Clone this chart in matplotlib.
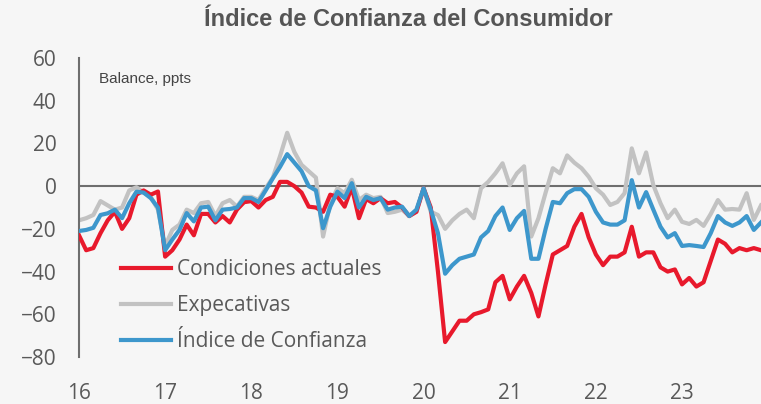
import numpy as np
import matplotlib
matplotlib.use("Agg")
import matplotlib.pyplot as plt

# datos mensuales ene-2016 .. dic-2023 (balance, ppts)
condiciones = [
    -23, -30, -29, -22, -16, -12, -20, -15, -4, -2, -4, -2.5,      # 2016
    -33, -30, -25, -18, -23, -13, -13, -17, -14, -17, -11, -7.5,   # 2017
    -7, -10, -6.5, -5, 2, 2, 0, -3, -9.6, -10, -12, -4,            # 2018
    -5, -9.6, -0.5, -15, -6, -8, -5.6, -8, -7.4, -10, -14, -12,    # 2019
    -1, -10, -40, -73, -68, -63, -63, -60, -59, -57.7, -45, -42,   # 2020
    -53, -47, -42, -50, -61, -46, -32, -30, -28, -19, -13, -24,    # 2021
    -32, -37, -33, -33, -31, -19, -33, -31, -31, -38, -40, -39,    # 2022
    -46, -43, -47, -45, -35, -25, -27, -31, -29, -30, -29, -30,    # 2023
]
expectativas = [
    -16, -15, -13.5, -7, -9, -11, -10, -2, -0.5, -3, -5, -11,
    -28, -20.5, -18, -11, -12.6, -8, -7.4, -14, -8, -6.5, -9.6, -5,
    -5, -6.5, -1, 4, 14, 25, 16, 10, 7, 4, -23.6, -8,
    -1, -3.3, 3, -6.5, -4, -5.6, -5, -12.6, -12, -11, -14, -12,
    -1, -12, -13.5, -20, -16, -13, -11, -15, -1, 2, 6, 10.7,
    0.5, 6, 9.3, -23.6, -15, -3, 8.4, 6, 14.4, 11, 8.4, 4.4,
    -1, -4, -8.8, -7.4, -3.3, 17.7, 6, 15.8, 0.5, -8, -15, -11,
    -16.7, -17.7, -15.8, -18.6, -13, -6.5, -11, -10.7, -11, -3.3, -15.8, -9,
]
indice = [
    -21, -20.5, -19.5, -13.5, -12.7, -11, -15, -8, -2.6, -3, -5.6, -10,
    -30, -25, -20.5, -12.6, -16.5, -10, -9.6, -16, -11, -10.7, -10, -5.6,
    -5.6, -7.4, -2, 3.7, 9, 15, 11, 7, 0, -2, -19.7, -9.6,
    -2.6, -5.6, 1.4, -10, -5, -6.5, -5.6, -11, -10, -9.6, -14, -11,
    -1, -11, -22, -41, -37, -34, -33, -32, -24, -21, -14, -10,
    -20.5, -15, -11.6, -34, -34, -20, -7.4, -8, -3.3, -1.4, -1.4, -5,
    -12, -17, -18, -18, -16, 2.8, -10, -2.8, -11, -19, -24, -22,
    -28, -27.6, -28, -28.5, -22, -14, -17, -18.6, -17, -14, -20.5, -17,
]
anios = ["16", "17", "18", "19", "20", "21", "22", "23"]

meses = np.arange(len(indice))

fig = plt.figure(figsize=(7.61, 4.04), dpi=100, facecolor="#f6f6f6")
ax = fig.add_axes([0.1038, 0.1163, 0.8962, 0.7401])
ax.set_facecolor("#f6f6f6")

ax.plot(meses, condiciones, color="#e8192c", lw=3, label="Condiciones actuales", zorder=3)
ax.plot(meses, expectativas, color="#c2c2c2", lw=3, label="Expecativas", zorder=2)
ax.plot(meses, indice, color="#3d97cc", lw=3, label="Índice de Confianza", zorder=4)
ax.axhline(0, color="#6e6e6e", lw=1.5, zorder=1)

ax.set_xlim(0, 95)
ax.set_ylim(-80, 60)
ax.set_yticks(range(-80, 61, 20))
ax.set_xticks(range(0, 96, 12))
ax.set_xticklabels(anios)

for lado in ["top", "right", "bottom"]:
    ax.spines[lado].set_visible(False)
ax.spines["left"].set_color("#6e6e6e")
ax.spines["left"].set_linewidth(1.5)

ax.tick_params(axis="y", length=0, pad=16, labelsize=15, labelcolor="#595959")
ax.tick_params(axis="x", length=0, pad=19, labelsize=15, labelcolor="#595959")
for t in ax.get_xticklabels() + ax.get_yticklabels():
    t.set_fontfamily("Open Sans")

fig.text(0.537, 0.952, "Índice de Confianza del Consumidor", ha="center", va="center",
         fontsize=17, fontweight="bold", color="#555555", family="Liberation Sans")
ax.text(0.03, 0.93, "Balance, ppts", transform=ax.transAxes, fontsize=11,
        color="#444444", family="Liberation Sans", va="center")

ax.legend(loc="upper left", bbox_to_anchor=(0.05, 0.355), frameon=False,
          prop={"family": "Open Sans", "size": 15}, labelcolor="#595959",
          handlelength=2.4, handletextpad=0.25, labelspacing=0.72, borderaxespad=0)

fig.savefig("out.png", dpi=100, facecolor=fig.get_facecolor())
